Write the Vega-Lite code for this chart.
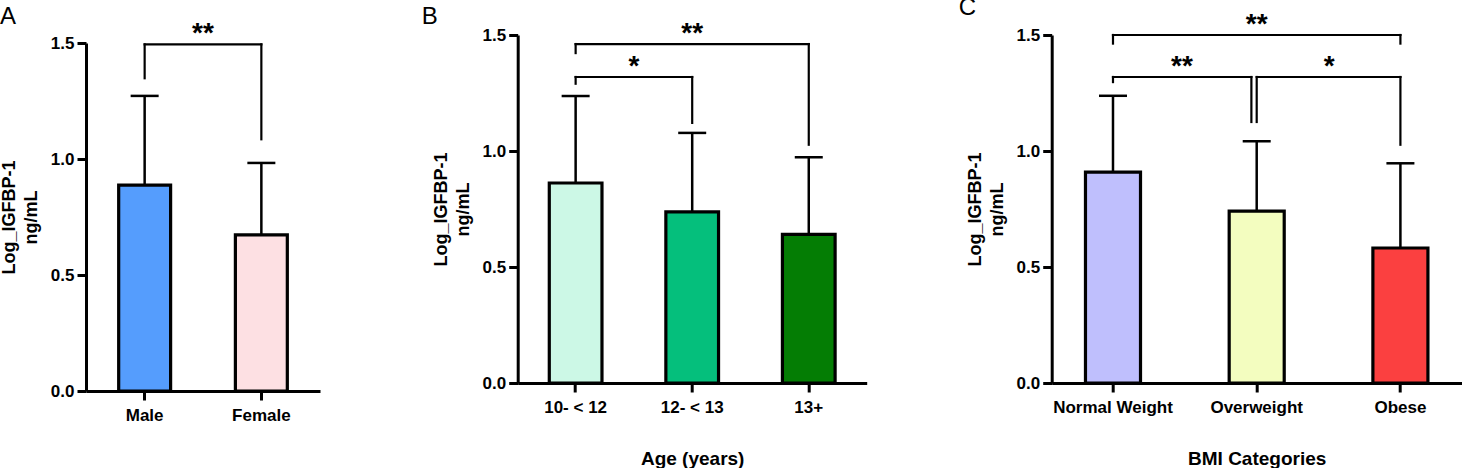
{
  "$schema": "https://vega.github.io/schema/vega-lite/v6.json",
  "autosize": "pad",
  "padding": {"left": 0, "top": -4, "right": 0, "bottom": 0},
  "background": "white",
  "config": {
    "view": {"stroke": null},
    "font": "Liberation Sans",
    "axis": {
      "grid": false,
      "domainColor": "black",
      "domainWidth": 3,
      "tickColor": "black",
      "tickWidth": 3,
      "tickSize": 9,
      "labelFont": "Liberation Sans",
      "labelFontSize": 17,
      "labelFontWeight": "bold",
      "labelColor": "black",
      "titleFont": "Liberation Sans",
      "titleFontSize": 18,
      "titleFontWeight": "bold",
      "titleColor": "black"
    },
    "axisX": {"labelAngle": 0, "labelPadding": 7, "labelOverlap": false, "titleFontSize": 19, "titlePadding": 34},
    "axisY": {"labelPadding": 3, "titlePadding": 10, "titleLineHeight": 22},
    "title": {"font": "Liberation Sans", "fontSize": 24, "fontWeight": "normal", "color": "black", "anchor": "start", "frame": "group", "baseline": "alphabetic", "offset": 11, "dy": 20}
  },
  "bounds": "flush",
  "spacing": 197.7,
  "resolve": {"scale": {"fill": "independent"}},
  "hconcat": [
    {
      "title": {"text": "A", "dx": -86},
      "width": 234,
      "height": 356,
      "resolve": {"scale": {"x": "independent"}},
      "layer": [
        {
          "data": {"values": [
            {"group": "Male", "mean": 0.887, "upper": 1.272},
            {"group": "Female", "mean": 0.673, "upper": 0.983}
          ]},
          "layer": [
            {
              "mark": {"type": "bar", "stroke": "black", "strokeWidth": 3.2},
              "encoding": {
                "x": {"field": "group", "type": "nominal", "sort": null, "title": null, "scale": {"paddingInner": 0.555, "paddingOuter": 0.28}},
                "y": {"field": "mean", "type": "quantitative", "scale": {"domain": [0, 1.5], "range": [356, 8], "nice": false}, "axis": {"values": [0, 0.5, 1, 1.5], "format": ".1f", "title": ["Log_IGFBP-1", "ng/mL"]}},
                "fill": {"field": "group", "type": "nominal", "scale": {"domain": ["Male", "Female"], "range": ["#559dfd", "#fde0e3"]}, "legend": null}
              }
            },
            {
              "mark": {"type": "rule", "strokeWidth": 2.5, "color": "black"},
              "encoding": {
                "x": {"field": "group", "type": "nominal", "sort": null, "title": null, "scale": {"paddingInner": 0.555, "paddingOuter": 0.28}},
                "y": {"field": "mean", "type": "quantitative", "scale": {"domain": [0, 1.5], "range": [356, 8], "nice": false}, "axis": {"values": [0, 0.5, 1, 1.5], "format": ".1f", "title": ["Log_IGFBP-1", "ng/mL"]}},
                "y2": {"field": "upper"}
              }
            },
            {
              "mark": {"type": "tick", "size": 28, "thickness": 2.5, "color": "black", "opacity": 1},
              "encoding": {
                "x": {"field": "group", "type": "nominal", "sort": null, "title": null, "scale": {"paddingInner": 0.555, "paddingOuter": 0.28}},
                "y": {"field": "upper", "type": "quantitative", "scale": {"domain": [0, 1.5], "range": [356, 8], "nice": false}, "axis": {"values": [0, 0.5, 1, 1.5], "format": ".1f", "title": ["Log_IGFBP-1", "ng/mL"]}}
              }
            }
          ]
        },
        {
          "data": {"values": [
            {"x1": 0, "x2": 1, "xm": 0.5, "y": 1.494, "y1": 1.348, "y2": 1.085, "label": "**"}
          ]},
          "layer": [
            {
              "mark": {"type": "rule", "strokeWidth": 2.2, "color": "black", "strokeCap": "square"},
              "encoding": {
                "x": {"field": "x1", "type": "quantitative", "axis": null, "scale": {"domain": [-0.5025, 1.5025], "nice": false, "zero": false}},
                "x2": {"field": "x2"},
                "y": {"field": "y", "type": "quantitative", "scale": {"domain": [0, 1.5], "range": [356, 8], "nice": false}, "axis": {"values": [0, 0.5, 1, 1.5], "format": ".1f", "title": ["Log_IGFBP-1", "ng/mL"]}}
              }
            },
            {
              "mark": {"type": "rule", "strokeWidth": 2.2, "color": "black", "strokeCap": "square"},
              "encoding": {
                "x": {"field": "x1", "type": "quantitative", "axis": null, "scale": {"domain": [-0.5025, 1.5025], "nice": false, "zero": false}},
                "y": {"field": "y", "type": "quantitative", "scale": {"domain": [0, 1.5], "range": [356, 8], "nice": false}, "axis": {"values": [0, 0.5, 1, 1.5], "format": ".1f", "title": ["Log_IGFBP-1", "ng/mL"]}},
                "y2": {"field": "y1"}
              }
            },
            {
              "mark": {"type": "rule", "strokeWidth": 2.2, "color": "black", "strokeCap": "square"},
              "encoding": {
                "x": {"field": "x2", "type": "quantitative", "axis": null, "scale": {"domain": [-0.5025, 1.5025], "nice": false, "zero": false}},
                "y": {"field": "y", "type": "quantitative", "scale": {"domain": [0, 1.5], "range": [356, 8], "nice": false}, "axis": {"values": [0, 0.5, 1, 1.5], "format": ".1f", "title": ["Log_IGFBP-1", "ng/mL"]}},
                "y2": {"field": "y2"}
              }
            },
            {
              "mark": {"type": "text", "fontSize": 28, "fontWeight": "bold", "font": "Liberation Sans", "baseline": "alphabetic", "align": "center", "dy": -2, "color": "black"},
              "encoding": {
                "x": {"field": "xm", "type": "quantitative", "axis": null, "scale": {"domain": [-0.5025, 1.5025], "nice": false, "zero": false}},
                "y": {"field": "y", "type": "quantitative", "scale": {"domain": [0, 1.5], "range": [356, 8], "nice": false}, "axis": {"values": [0, 0.5, 1, 1.5], "format": ".1f", "title": ["Log_IGFBP-1", "ng/mL"]}},
                "text": {"field": "label"}
              }
            }
          ]
        }
      ]
    },
    {
      "bounds": "flush",
      "spacing": 185,
      "resolve": {"scale": {"fill": "independent"}},
      "hconcat": [
        {
          "title": {"text": "B", "dx": -96},
          "width": 349,
          "height": 348,
          "resolve": {"scale": {"x": "independent"}},
          "layer": [
            {
              "data": {"values": [
                {"group": "10- < 12", "mean": 0.862, "upper": 1.237},
                {"group": "12- < 13", "mean": 0.738, "upper": 1.078},
                {"group": "13+", "mean": 0.641, "upper": 0.973}
              ]},
              "layer": [
                {
                  "mark": {"type": "bar", "stroke": "black", "strokeWidth": 3.2},
                  "encoding": {
                    "x": {"field": "group", "type": "nominal", "sort": null, "title": "Age (years)", "scale": {"paddingInner": 0.548, "paddingOuter": 0.271}},
                    "y": {"field": "mean", "type": "quantitative", "scale": {"domain": [0, 1.5], "nice": false}, "axis": {"values": [0, 0.5, 1, 1.5], "format": ".1f", "title": ["Log_IGFBP-1", "ng/mL"]}},
                    "fill": {"field": "group", "type": "nominal", "scale": {"domain": ["10- < 12", "12- < 13", "13+"], "range": ["#ccf8e6", "#05bf7c", "#047d04"]}, "legend": null}
                  }
                },
                {
                  "mark": {"type": "rule", "strokeWidth": 2.5, "color": "black"},
                  "encoding": {
                    "x": {"field": "group", "type": "nominal", "sort": null, "title": "Age (years)", "scale": {"paddingInner": 0.548, "paddingOuter": 0.271}},
                    "y": {"field": "mean", "type": "quantitative", "scale": {"domain": [0, 1.5], "nice": false}, "axis": {"values": [0, 0.5, 1, 1.5], "format": ".1f", "title": ["Log_IGFBP-1", "ng/mL"]}},
                    "y2": {"field": "upper"}
                  }
                },
                {
                  "mark": {"type": "tick", "size": 28, "thickness": 2.5, "color": "black", "opacity": 1},
                  "encoding": {
                    "x": {"field": "group", "type": "nominal", "sort": null, "title": "Age (years)", "scale": {"paddingInner": 0.548, "paddingOuter": 0.271}},
                    "y": {"field": "upper", "type": "quantitative", "scale": {"domain": [0, 1.5], "nice": false}, "axis": {"values": [0, 0.5, 1, 1.5], "format": ".1f", "title": ["Log_IGFBP-1", "ng/mL"]}}
                  }
                }
              ]
            },
            {
              "data": {"values": [
                {"x1": 0, "x2": 2, "xm": 1, "y": 1.461, "y1": 1.422, "y2": 1.027, "label": "**"},
                {"x1": 0, "x2": 1, "xm": 0.5, "y": 1.319, "y1": 1.29, "y2": 1.121, "label": "*"}
              ]},
              "layer": [
                {
                  "mark": {"type": "rule", "strokeWidth": 2.2, "color": "black", "strokeCap": "square"},
                  "encoding": {
                    "x": {"field": "x1", "type": "quantitative", "axis": null, "scale": {"domain": [-0.497, 2.497], "nice": false, "zero": false}},
                    "x2": {"field": "x2"},
                    "y": {"field": "y", "type": "quantitative", "scale": {"domain": [0, 1.5], "nice": false}, "axis": {"values": [0, 0.5, 1, 1.5], "format": ".1f", "title": ["Log_IGFBP-1", "ng/mL"]}}
                  }
                },
                {
                  "mark": {"type": "rule", "strokeWidth": 2.2, "color": "black", "strokeCap": "square"},
                  "encoding": {
                    "x": {"field": "x1", "type": "quantitative", "axis": null, "scale": {"domain": [-0.497, 2.497], "nice": false, "zero": false}},
                    "y": {"field": "y", "type": "quantitative", "scale": {"domain": [0, 1.5], "nice": false}, "axis": {"values": [0, 0.5, 1, 1.5], "format": ".1f", "title": ["Log_IGFBP-1", "ng/mL"]}},
                    "y2": {"field": "y1"}
                  }
                },
                {
                  "mark": {"type": "rule", "strokeWidth": 2.2, "color": "black", "strokeCap": "square"},
                  "encoding": {
                    "x": {"field": "x2", "type": "quantitative", "axis": null, "scale": {"domain": [-0.497, 2.497], "nice": false, "zero": false}},
                    "y": {"field": "y", "type": "quantitative", "scale": {"domain": [0, 1.5], "nice": false}, "axis": {"values": [0, 0.5, 1, 1.5], "format": ".1f", "title": ["Log_IGFBP-1", "ng/mL"]}},
                    "y2": {"field": "y2"}
                  }
                },
                {
                  "mark": {"type": "text", "fontSize": 28, "fontWeight": "bold", "font": "Liberation Sans", "baseline": "alphabetic", "align": "center", "dy": -2, "color": "black"},
                  "encoding": {
                    "x": {"field": "xm", "type": "quantitative", "axis": null, "scale": {"domain": [-0.497, 2.497], "nice": false, "zero": false}},
                    "y": {"field": "y", "type": "quantitative", "scale": {"domain": [0, 1.5], "nice": false}, "axis": {"values": [0, 0.5, 1, 1.5], "format": ".1f", "title": ["Log_IGFBP-1", "ng/mL"]}},
                    "text": {"field": "label"}
                  }
                }
              ]
            }
          ]
        },
        {
          "title": {"text": "C", "dx": -93},
          "width": 410,
          "height": 348,
          "resolve": {"scale": {"x": "independent"}},
          "layer": [
            {
              "data": {"values": [
                {"group": "Normal Weight", "mean": 0.909, "upper": 1.238},
                {"group": "Overweight", "mean": 0.741, "upper": 1.042},
                {"group": "Obese", "mean": 0.582, "upper": 0.947}
              ]},
              "layer": [
                {
                  "mark": {"type": "bar", "stroke": "black", "strokeWidth": 3.2},
                  "encoding": {
                    "x": {"field": "group", "type": "nominal", "sort": null, "title": "BMI Categories", "scale": {"paddingInner": 0.617, "paddingOuter": 0.235}},
                    "y": {"field": "mean", "type": "quantitative", "scale": {"domain": [0, 1.5], "nice": false}, "axis": {"values": [0, 0.5, 1, 1.5], "format": ".1f", "title": ["Log_IGFBP-1", "ng/mL"]}},
                    "fill": {"field": "group", "type": "nominal", "scale": {"domain": ["Normal Weight", "Overweight", "Obese"], "range": ["#bfbffd", "#f3fdbf", "#fb4040"]}, "legend": null}
                  }
                },
                {
                  "mark": {"type": "rule", "strokeWidth": 2.5, "color": "black"},
                  "encoding": {
                    "x": {"field": "group", "type": "nominal", "sort": null, "title": "BMI Categories", "scale": {"paddingInner": 0.617, "paddingOuter": 0.235}},
                    "y": {"field": "mean", "type": "quantitative", "scale": {"domain": [0, 1.5], "nice": false}, "axis": {"values": [0, 0.5, 1, 1.5], "format": ".1f", "title": ["Log_IGFBP-1", "ng/mL"]}},
                    "y2": {"field": "upper"}
                  }
                },
                {
                  "mark": {"type": "tick", "size": 28, "thickness": 2.5, "color": "black", "opacity": 1},
                  "encoding": {
                    "x": {"field": "group", "type": "nominal", "sort": null, "title": "BMI Categories", "scale": {"paddingInner": 0.617, "paddingOuter": 0.235}},
                    "y": {"field": "upper", "type": "quantitative", "scale": {"domain": [0, 1.5], "nice": false}, "axis": {"values": [0, 0.5, 1, 1.5], "format": ".1f", "title": ["Log_IGFBP-1", "ng/mL"]}}
                  }
                }
              ]
            },
            {
              "data": {"values": [
                {"x1": 0, "x2": 2, "xm": 1, "y": 1.5, "y1": 1.463, "y2": 1.463, "label": "**"},
                {"x1": 0, "x2": 0.963, "xm": 0.48, "y": 1.319, "y1": 1.297, "y2": 1.125, "label": "**"},
                {"x1": 1, "x2": 2, "xm": 1.505, "y": 1.319, "y1": 1.125, "y2": 1.027, "label": "*"}
              ]},
              "layer": [
                {
                  "mark": {"type": "rule", "strokeWidth": 2.2, "color": "black", "strokeCap": "square"},
                  "encoding": {
                    "x": {"field": "x1", "type": "quantitative", "axis": null, "scale": {"domain": [-0.4265, 2.4265], "nice": false, "zero": false}},
                    "x2": {"field": "x2"},
                    "y": {"field": "y", "type": "quantitative", "scale": {"domain": [0, 1.5], "nice": false}, "axis": {"values": [0, 0.5, 1, 1.5], "format": ".1f", "title": ["Log_IGFBP-1", "ng/mL"]}}
                  }
                },
                {
                  "mark": {"type": "rule", "strokeWidth": 2.2, "color": "black", "strokeCap": "square"},
                  "encoding": {
                    "x": {"field": "x1", "type": "quantitative", "axis": null, "scale": {"domain": [-0.4265, 2.4265], "nice": false, "zero": false}},
                    "y": {"field": "y", "type": "quantitative", "scale": {"domain": [0, 1.5], "nice": false}, "axis": {"values": [0, 0.5, 1, 1.5], "format": ".1f", "title": ["Log_IGFBP-1", "ng/mL"]}},
                    "y2": {"field": "y1"}
                  }
                },
                {
                  "mark": {"type": "rule", "strokeWidth": 2.2, "color": "black", "strokeCap": "square"},
                  "encoding": {
                    "x": {"field": "x2", "type": "quantitative", "axis": null, "scale": {"domain": [-0.4265, 2.4265], "nice": false, "zero": false}},
                    "y": {"field": "y", "type": "quantitative", "scale": {"domain": [0, 1.5], "nice": false}, "axis": {"values": [0, 0.5, 1, 1.5], "format": ".1f", "title": ["Log_IGFBP-1", "ng/mL"]}},
                    "y2": {"field": "y2"}
                  }
                },
                {
                  "mark": {"type": "text", "fontSize": 28, "fontWeight": "bold", "font": "Liberation Sans", "baseline": "alphabetic", "align": "center", "dy": -2, "color": "black"},
                  "encoding": {
                    "x": {"field": "xm", "type": "quantitative", "axis": null, "scale": {"domain": [-0.4265, 2.4265], "nice": false, "zero": false}},
                    "y": {"field": "y", "type": "quantitative", "scale": {"domain": [0, 1.5], "nice": false}, "axis": {"values": [0, 0.5, 1, 1.5], "format": ".1f", "title": ["Log_IGFBP-1", "ng/mL"]}},
                    "text": {"field": "label"}
                  }
                }
              ]
            }
          ]
        }
      ]
    }
  ]
}
